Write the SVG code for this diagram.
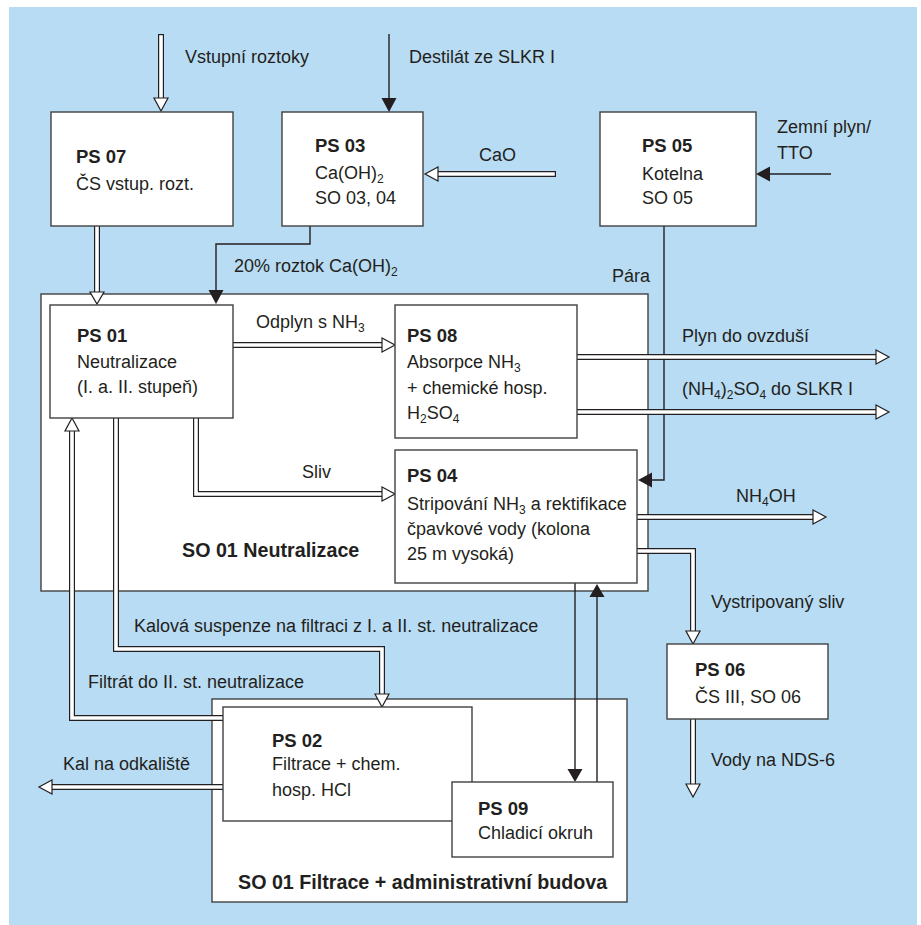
<svg xmlns="http://www.w3.org/2000/svg" width="921" height="925" viewBox="0 0 921 925">
<style>
.t{font-family:"Liberation Sans",Arial,sans-serif;font-size:18px;fill:#231f20}
.b{font-family:"Liberation Sans",Arial,sans-serif;font-size:18.5px;font-weight:bold;fill:#231f20}
.bl{font-family:"Liberation Sans",Arial,sans-serif;font-size:19.7px;font-weight:bold;fill:#231f20}
.box{fill:#fff;stroke:#404040;stroke-width:1.4}
.hs{fill:none;stroke:#231f20;stroke-width:6;stroke-linejoin:miter}
.hw{fill:none;stroke:#fff;stroke-width:3.6;stroke-linejoin:miter}
.hh{fill:#fff;stroke:#231f20;stroke-width:1.2;stroke-linejoin:miter}
.ln{fill:none;stroke:#231f20;stroke-width:1.4}
.fh{fill:#231f20}
</style>
<rect x="9" y="7" width="908" height="918" fill="#b8dcf3"/>

<g id="SO01N"><rect class="box" x="41" y="294" width="607" height="297"/><text class="bl" x="182" y="557">SO 01 Neutralizace</text></g>
<g id="SO01F"><rect class="box" x="212" y="699" width="415" height="203"/><text class="bl" x="238" y="889">SO 01 Filtrace + administrativní budova</text></g>

<g id="connectors">
<!-- thin filled arrows -->
<line class="ln" x1="389" y1="34" x2="389" y2="99"/><polygon class="fh" points="381.5,98 396.5,98 389,112"/>
<path class="ln" d="M310,226 V244 H216 V291"/><polygon class="fh" points="208.5,290 223.5,290 216,304"/>
<line class="ln" x1="831" y1="174" x2="769" y2="174"/><polygon class="fh" points="770,166.5 770,181.5 756,174"/>
<path class="ln" d="M664,226 V480 H651"/><polygon class="fh" points="652,472.5 652,487.5 638,480"/>
<line class="ln" x1="575" y1="583" x2="575" y2="770"/><polygon class="fh" points="567.5,769 582.5,769 575,782"/>
<line class="ln" x1="597" y1="782" x2="597" y2="596"/><polygon class="fh" points="589.5,597 604.5,597 597,584"/>

<!-- hollow arrows -->
<g>
<path class="hs" d="M161,34 V99"/><path class="hw" d="M161,35.2 V100"/><polygon class="hh" points="154,98 168,98 161,111"/>
<path class="hs" d="M97,226 V293"/><path class="hw" d="M97,226 V294"/><polygon class="hh" points="90,292 104,292 97,304"/>
<path class="hs" d="M556,174 H437"/><path class="hw" d="M554.8,174 H436"/><polygon class="hh" points="438,167 438,181 425,174"/>
<path class="hs" d="M233,345 H383"/><path class="hw" d="M233,345 H384"/><polygon class="hh" points="382,338 382,352 395,345"/>
<path class="hs" d="M196,418 V494 H383"/><path class="hw" d="M196,418 V494 H384"/><polygon class="hh" points="382,487 382,501 395,494"/>
<path class="hs" d="M577,357 H877"/><path class="hw" d="M577,357 H878"/><polygon class="hh" points="876,350 876,364 889,357"/>
<path class="hs" d="M577,412 H877"/><path class="hw" d="M577,412 H878"/><polygon class="hh" points="876,405 876,419 889,412"/>
<path class="hs" d="M637,517 H814"/><path class="hw" d="M637,517 H815"/><polygon class="hh" points="813,510 813,524 826,517"/>
<path class="hs" d="M637,551 H693 V632"/><path class="hw" d="M637,551 H693 V633"/><polygon class="hh" points="686,631 700,631 693,644"/>
<path class="hs" d="M693,719 V785"/><path class="hw" d="M693,719 V786"/><polygon class="hh" points="686,784 700,784 693,797"/>
<path class="hs" d="M116,418 V649 H382 V695"/><path class="hw" d="M116,418 V649 H382 V696"/><polygon class="hh" points="375,694 389,694 382,707"/>
<path class="hs" d="M223,718 H72 V430"/><path class="hw" d="M223,718 H72 V429"/><polygon class="hh" points="65,431 79,431 72,418"/>
<path class="hs" d="M223,787 H51"/><path class="hw" d="M223,787 H50"/><polygon class="hh" points="52,780 52,794 39,787"/>
</g>

<!-- connector labels -->
<text class="t" x="185" y="63">Vstupní roztoky</text>
<text class="t" x="409" y="63">Destilát ze SLKR I</text>
<text class="t" x="479" y="161">CaO</text>
<text class="t" x="777" y="133">Zemní plyn/</text>
<text class="t" x="777" y="159">TTO</text>
<text class="t" x="234" y="272">20% roztok Ca(OH)<tspan font-size="12" dy="4">2</tspan></text>
<text class="t" x="612" y="282">Pára</text>
<text class="t" x="256" y="328">Odplyn s NH<tspan font-size="12" dy="4">3</tspan></text>
<text class="t" x="302" y="478">Sliv</text>
<text class="t" x="682" y="342">Plyn do ovzduší</text>
<text class="t" x="682" y="395">(NH<tspan font-size="12" dy="4">4</tspan><tspan dy="-4">)</tspan><tspan font-size="12" dy="4">2</tspan><tspan dy="-4">SO</tspan><tspan font-size="12" dy="4">4</tspan><tspan dy="-4"> do SLKR I</tspan></text>
<text class="t" x="736" y="502">NH<tspan font-size="12" dy="4">4</tspan><tspan dy="-4">OH</tspan></text>
<text class="t" x="711" y="608">Vystripovaný sliv</text>
<text class="t" x="711" y="766">Vody na NDS-6</text>
<text class="t" x="134" y="632">Kalová suspenze na filtraci z I. a II. st. neutralizace</text>
<text class="t" x="88" y="688">Filtrát do II. st. neutralizace</text>
<text class="t" x="63" y="770">Kal na odkaliště</text>
</g>

<g id="PS07"><rect class="box" x="51" y="112" width="182" height="114"/><text class="b" x="76" y="163">PS 07</text><text class="t" x="76" y="190">ČS vstup. rozt.</text></g>
<g id="PS03"><rect class="box" x="282" y="112" width="141" height="114"/><text class="b" x="315" y="152">PS 03</text><text class="t" x="315" y="179">Ca(OH)<tspan font-size="12" dy="4">2</tspan></text><text class="t" x="315" y="204">SO 03, 04</text></g>
<g id="PS05"><rect class="box" x="600" y="112" width="156" height="114"/><text class="b" x="642" y="152">PS 05</text><text class="t" x="642" y="180">Kotelna</text><text class="t" x="642" y="204">SO 05</text></g>
<g id="PS01"><rect class="box" x="50" y="305" width="183" height="113"/><text class="b" x="77" y="342">PS 01</text><text class="t" x="77" y="368">Neutralizace</text><text class="t" x="77" y="393">(I. a. II. stupeň)</text></g>
<g id="PS08"><rect class="box" x="395" y="305" width="182" height="133"/><text class="b" x="407" y="342">PS 08</text><text class="t" x="407" y="368">Absorpce NH<tspan font-size="12" dy="4">3</tspan></text><text class="t" x="407" y="394">+ chemické hosp.</text><text class="t" x="407" y="419">H<tspan font-size="12" dy="4">2</tspan><tspan dy="-4">SO</tspan><tspan font-size="12" dy="4">4</tspan></text></g>
<g id="PS04"><rect class="box" x="395" y="450" width="242" height="133"/><text class="b" x="407" y="482">PS 04</text><text class="t" x="407" y="510">Stripování NH<tspan font-size="12" dy="4">3</tspan><tspan dy="-4"> a rektifikace</tspan></text><text class="t" x="407" y="535">čpavkové vody (kolona</text><text class="t" x="407" y="560">25 m vysoká)</text></g>
<g id="PS06"><rect class="box" x="667" y="644" width="161" height="75"/><text class="b" x="695" y="676">PS 06</text><text class="t" x="695" y="703">ČS III, SO 06</text></g>
<g id="PS02"><rect class="box" x="223" y="707" width="249" height="114"/><text class="b" x="272" y="747">PS 02</text><text class="t" x="272" y="770">Filtrace + chem.</text><text class="t" x="272" y="796">hosp. HCl</text></g>
<g id="PS09"><rect class="box" x="452" y="782" width="161" height="75"/><text class="b" x="478" y="815">PS 09</text><text class="t" x="478" y="839">Chladicí okruh</text></g>
</svg>
